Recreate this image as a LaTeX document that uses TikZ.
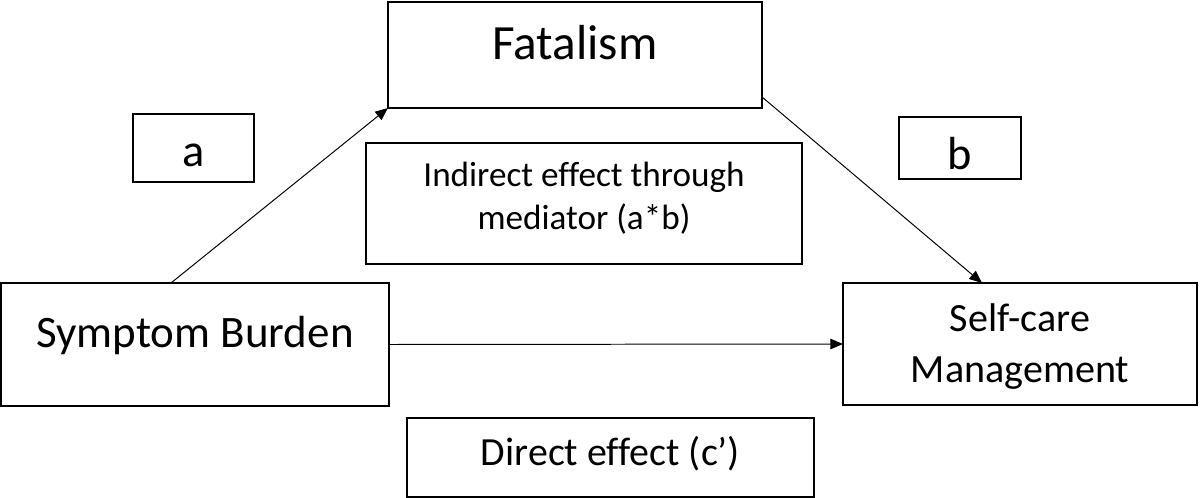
\documentclass[tikz,border=0pt]{standalone}
\usepackage{fontspec}
\setmainfont{Carlito}[Ligatures=NoCommon]
\usetikzlibrary{arrows.meta,calc}

\begin{document}
\begin{tikzpicture}[x=0.025cm,y=-0.025cm]
		% Styles
		\tikzset{
			box/.style={draw=black, line width=1pt, rectangle, inner sep=0pt, outer sep=0pt},
			txt/.style={anchor=base, inner sep=0pt, align=center},
			link/.style={draw=black, line width=0.7pt, -{Triangle[length=9pt,width=7.5pt]}}
		}

		\useasboundingbox (0,0) rectangle (1200,498);

		% Boxes
		\node[box, minimum width=9.35cm, minimum height=2.65cm] (fat) at (575,55) {};
		\node[box, minimum width=3.025cm, minimum height=1.7cm] (pa) at (193.5,148) {};
		\node[box, minimum width=3.05cm, minimum height=1.55cm] (pb) at (960,148) {};
		\node[box, minimum width=10.9cm, minimum height=3.025cm] (ind) at (584,203.5) {};
		\node[box, minimum width=9.7cm, minimum height=3.075cm] (sb) at (195,344.5) {};
		\node[box, minimum width=8.85cm, minimum height=3.05cm] (sc) at (1020,344) {};
		\node[box, minimum width=10.175cm, minimum height=1.975cm] (dir) at (610.5,457.5) {};

		% Texts (base = last line)
		\node[txt, font=\fontsize{35}{42}\selectfont] (tfat) at (575,60) {Fatalism};
		\node[txt, font=\fontsize{33}{40}\selectfont] (tpa) at (193.5,167) {a};
		\node[txt, font=\fontsize{33}{40}\selectfont] (tpb) at (960,170) {b};
		\node[txt, font=\fontsize{25}{30.6}\selectfont] (tind) at (584,230) {Indirect effect through\\mediator (a*b)};
		\node[txt, font=\fontsize{32}{38}\selectfont] (tsb) at (195,347) {Symptom Burden};
		\node[txt, font=\fontsize{28.5}{35.6}\selectfont] (tsc) at (1020,382) {Self-care\\Management};
		\node[txt, font=\fontsize{28.4}{34}\selectfont] (tdir) at (610.5,465) {Direct effect (c’)};

		% Paths
		\draw[link] ([xshift=4.25cm]sb.north west) -- (fat.south west);
		\draw[link] ([yshift=0.275cm]fat.south east) -- ([xshift=3.475cm]sc.north west);
		\draw[link] (sb.east) -- (sc.west);

	\end{tikzpicture}
\end{document}
